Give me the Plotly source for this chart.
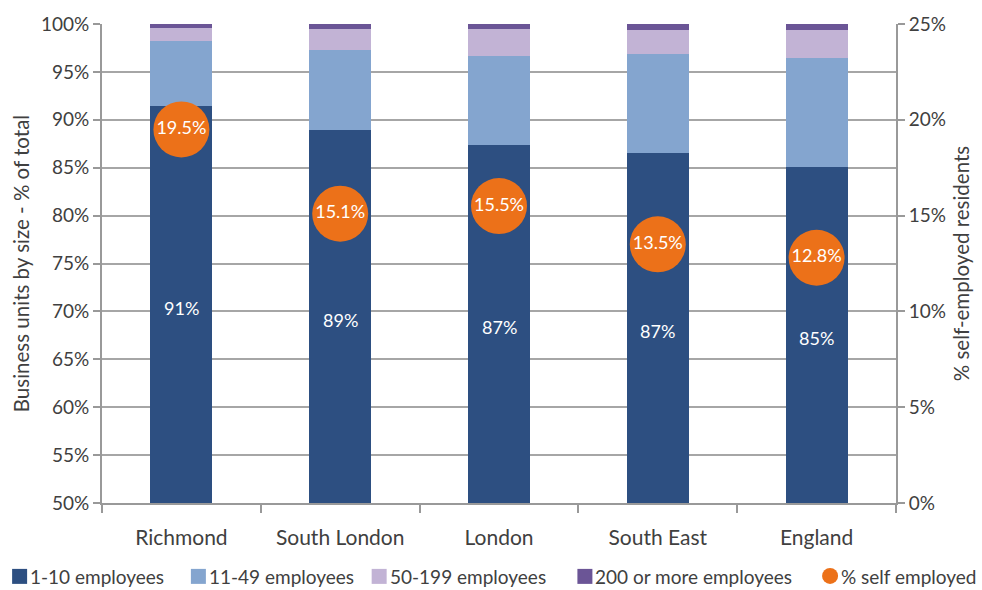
import plotly.graph_objects as go

regions = ["Richmond", "South London", "London", "South East", "England"]
emp_1_10 = [91.4, 88.9, 87.4, 86.5, 85.1]
emp_11_49 = [6.8, 8.4, 9.3, 10.4, 11.3]
emp_50_199 = [1.4, 2.2, 2.8, 2.5, 3.0]
emp_200_plus = [0.4, 0.5, 0.5, 0.6, 0.6]
self_employed = [19.5, 15.1, 15.5, 13.5, 12.8]
bar_labels = ["91%", "89%", "87%", "87%", "85%"]

FONT = "Lato"
TXT = "#404040"
GRID = "#a6a6a6"
AX = "#999999"

series = [
    ("1-10 employees", emp_1_10, "#2d4f81"),
    ("11-49 employees", emp_11_49, "#84a5cf"),
    ("50-199 employees", emp_50_199, "#c2b3d5"),
    ("200 or more employees", emp_200_plus, "#6b5596"),
]
ORANGE = "#ec7119"

fig = go.Figure()
for name, vals, col in series:
    fig.add_trace(go.Bar(x=regions, y=vals, name=name, marker=dict(color=col, line=dict(width=0))))

fig.add_trace(go.Scatter(
    x=regions, y=self_employed, yaxis="y2", name="% self employed",
    mode="markers+text",
    marker=dict(size=56, color=ORANGE),
    text=[f"{v:.1f}%" for v in self_employed],
    textposition="middle center",
    textfont=dict(color="white", size=18, family=FONT),
))

for r, v, lab in zip(regions, emp_1_10, bar_labels):
    fig.add_annotation(x=r, y=(50 + v) / 2, text=lab, showarrow=False, yshift=-3,
                       font=dict(color="white", size=18, family=FONT))

# manual legend (one row, like the reference)
PL, PW = 102, 795
PB, PH = 503, 483
def px_x(px):
    return (px - PL) / PW
leg_y = (PB - 577) / PH
legend_items = [
    ("1-10 employees", series[0][2], 12, "rect"),
    ("11-49 employees", series[1][2], 191, "rect"),
    ("50-199 employees", series[2][2], 372, "rect"),
    ("200 or more employees", series[3][2], 578, "rect"),
    ("% self employed", ORANGE, 823, "circle"),
]
for label, col, px, kind in legend_items:
    fig.add_shape(type=kind, xref="paper", yref="paper", xsizemode="pixel", ysizemode="pixel",
                  xanchor=px_x(px), yanchor=leg_y, x0=0, x1=15 if kind == "rect" else 16,
                  y0=-7.5, y1=7.5 if kind == "rect" else 8.5,
                  fillcolor=col, line=dict(width=0))
    fig.add_annotation(xref="paper", yref="paper", x=px_x(px + (16 if kind == "rect" else 17)), y=leg_y,
                       xanchor="left", yanchor="middle", text=label, showarrow=False,
                       font=dict(size=19, color=TXT, family=FONT))

fig.update_layout(
    width=982, height=590,
    margin=dict(l=102, r=85, t=20, b=87),
    plot_bgcolor="white", paper_bgcolor="white",
    barmode="stack", bargap=0.61,
    font=dict(family=FONT, color=TXT, size=18),
    showlegend=False,
    xaxis=dict(showline=True, linecolor=AX, linewidth=2,
               ticks="outside", tickson="boundaries", ticklen=8, tickcolor=AX, tickwidth=2,
               ticklabelstandoff=15,
               tickfont=dict(size=21, color=TXT)),
    yaxis=dict(range=[50, 100], dtick=5, ticksuffix="%", showgrid=True, gridcolor=GRID, gridwidth=1.5,
               showline=True, linecolor=AX, linewidth=2,
               ticks="outside", ticklen=7, tickcolor=AX, tickwidth=2,
               tickfont=dict(size=19, color=TXT), zeroline=False,
               title=dict(text="Business units by size - % of total", font=dict(size=20.5, color=TXT), standoff=6)),
    yaxis2=dict(range=[0, 25], dtick=5, ticksuffix="%", overlaying="y", side="right", showgrid=False,
                showline=True, linecolor=AX, linewidth=2,
                ticks="outside", ticklen=7, tickcolor=AX, tickwidth=2,
                tickfont=dict(size=19, color=TXT), zeroline=False,
                title=dict(text="% self-employed residents", font=dict(size=20.5, color=TXT), standoff=10)),
)

fig.write_html("out.html")
